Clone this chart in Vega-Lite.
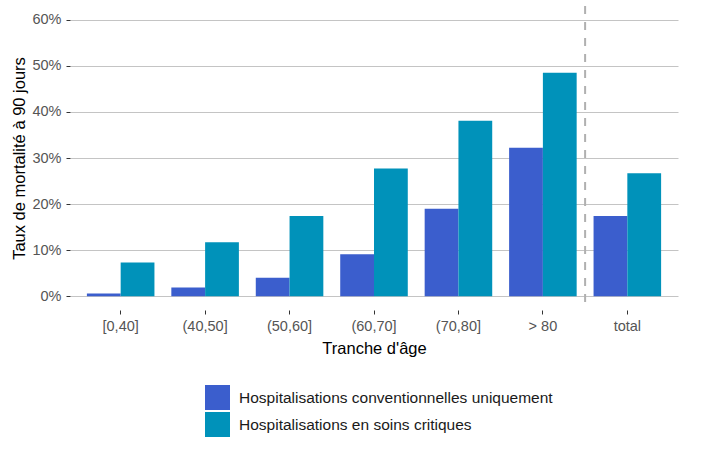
{
  "$schema": "https://vega.github.io/schema/vega-lite/v6.json",
  "width": 608,
  "height": 304,
  "autosize": {"type": "none"},
  "padding": {"left": 70, "top": 6, "right": 24, "bottom": 145},
  "background": "white",
  "config": {
    "font": "Liberation Sans",
    "view": {"stroke": null},
    "axis": {"labelFont": "Liberation Sans", "titleFont": "Liberation Sans"}
  },
  "data": {
    "values": [
      {"age": "[0,40]", "serie": "Hospitalisations conventionnelles uniquement", "taux": 0.006},
      {"age": "[0,40]", "serie": "Hospitalisations en soins critiques", "taux": 0.073},
      {"age": "(40,50]", "serie": "Hospitalisations conventionnelles uniquement", "taux": 0.019},
      {"age": "(40,50]", "serie": "Hospitalisations en soins critiques", "taux": 0.117},
      {"age": "(50,60]", "serie": "Hospitalisations conventionnelles uniquement", "taux": 0.040},
      {"age": "(50,60]", "serie": "Hospitalisations en soins critiques", "taux": 0.174},
      {"age": "(60,70]", "serie": "Hospitalisations conventionnelles uniquement", "taux": 0.091},
      {"age": "(60,70]", "serie": "Hospitalisations en soins critiques", "taux": 0.277},
      {"age": "(70,80]", "serie": "Hospitalisations conventionnelles uniquement", "taux": 0.190},
      {"age": "(70,80]", "serie": "Hospitalisations en soins critiques", "taux": 0.381},
      {"age": "> 80", "serie": "Hospitalisations conventionnelles uniquement", "taux": 0.322},
      {"age": "> 80", "serie": "Hospitalisations en soins critiques", "taux": 0.485},
      {"age": "total", "serie": "Hospitalisations conventionnelles uniquement", "taux": 0.174},
      {"age": "total", "serie": "Hospitalisations en soins critiques", "taux": 0.267}
    ]
  },
  "layer": [
    {
      "mark": {"type": "bar"},
      "encoding": {
        "x": {
          "field": "age",
          "type": "nominal",
          "scale": {
            "domain": ["[0,40]", "(40,50]", "(50,60]", "(60,70]", "(70,80]", "> 80", "total"],
            "paddingInner": 0.2,
            "paddingOuter": 0.2
          },
          "axis": {
            "title": "Tranche d'âge",
            "labelAngle": 0,
            "labelFontSize": 14.5,
            "labelColor": "#555555",
            "labelPadding": 5,
            "ticks": true,
            "tickSize": 4,
            "tickColor": "#333333",
            "domain": false,
            "grid": false,
            "titleFontSize": 16.5,
            "titleFontWeight": "normal",
            "titleColor": "#000000",
            "titlePadding": 8
          }
        },
        "xOffset": {
          "field": "serie",
          "type": "nominal",
          "sort": ["Hospitalisations conventionnelles uniquement", "Hospitalisations en soins critiques"],
          "scale": {"paddingInner": 0, "paddingOuter": 0}
        },
        "y": {
          "field": "taux",
          "type": "quantitative",
          "scale": {"domain": [-0.03, 0.63], "nice": false, "zero": false},
          "axis": {
            "title": "Taux de mortalité à 90 jours",
            "values": [0, 0.1, 0.2, 0.3, 0.4, 0.5, 0.6],
            "format": ".0%",
            "labelFontSize": 14.5,
            "labelColor": "#555555",
            "labelPadding": 5,
            "tickSize": 4,
            "tickColor": "#333333",
            "domain": false,
            "grid": true,
            "gridColor": "#c4c4c4",
            "gridWidth": 1,
            "titleFontSize": 16.5,
            "titleFontWeight": "normal",
            "titleColor": "#000000",
            "titlePadding": 4
          }
        },
        "y2": {"datum": 0},
        "color": {
          "field": "serie",
          "type": "nominal",
          "sort": ["Hospitalisations conventionnelles uniquement", "Hospitalisations en soins critiques"],
          "scale": {"range": ["#3b5ecd", "#0092ba"]},
          "legend": {
            "title": null,
            "orient": "none",
            "legendX": 135,
            "legendY": 379,
            "direction": "vertical",
            "symbolType": "square",
            "symbolSize": 625,
            "symbolStrokeWidth": 0,
            "symbolOpacity": 1,
            "labelFontSize": 15.5,
            "labelColor": "#1a1a1a",
            "labelOffset": 9,
            "labelLimit": 600,
            "rowPadding": 2,
            "padding": 0
          }
        }
      }
    },
    {
      "data": {"values": [{"age": "total"}]},
      "mark": {"type": "rule", "color": "#b0b0b0", "strokeWidth": 2, "strokeDash": [8, 8]},
      "encoding": {
        "x": {"field": "age", "type": "nominal", "bandPosition": -0.125}
      }
    }
  ]
}
